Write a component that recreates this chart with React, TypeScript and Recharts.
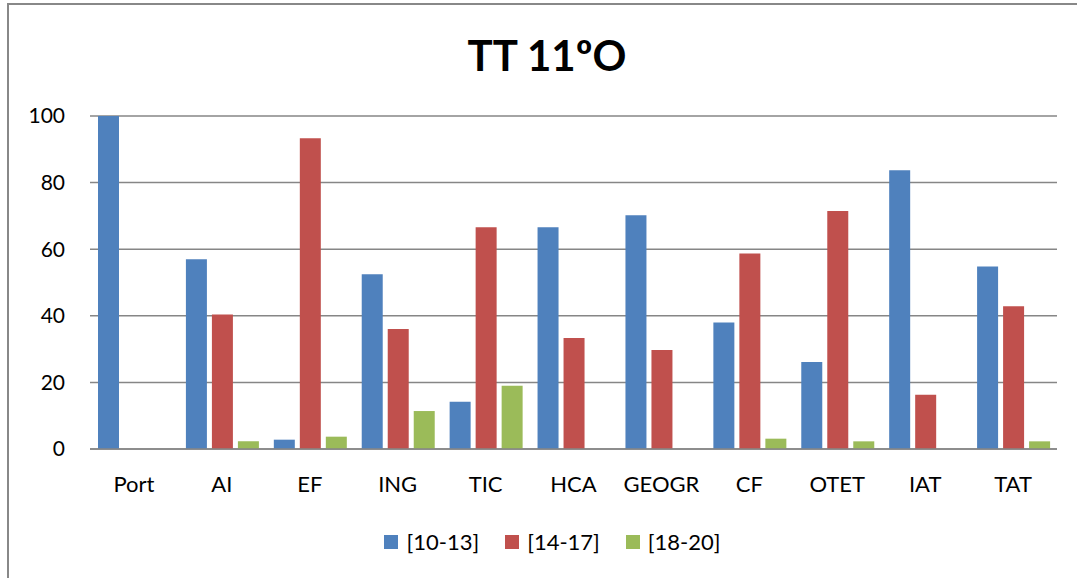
import React from 'react'
import { BarChart, Bar, XAxis, YAxis, CartesianGrid, Legend } from 'recharts'

const subjects = ['Port', 'AI', 'EF', 'ING', 'TIC', 'HCA', 'GEOGR', 'CF', 'OTET', 'IAT', 'TAT']
const low = [100, 57, 2.8, 52.5, 14.2, 66.6, 70.2, 38, 26.1, 83.7, 54.8]
const mid = [0, 40.4, 93.3, 36, 66.6, 33.3, 29.7, 58.7, 71.5, 16.3, 42.9]
const high = [0, 2.3, 3.7, 11.4, 19, 0, 0, 3.1, 2.3, 0, 2.3]
const yTicks = [0, 20, 40, 60, 80, 100]

const series = [
  { key: 'low', name: '[10-13]', color: '#4F81BD' },
  { key: 'mid', name: '[14-17]', color: '#C0504D' },
  { key: 'high', name: '[18-20]', color: '#9BBB59' },
]

const data = subjects.map((s, i) => ({ subject: s, low: low[i], mid: mid[i], high: high[i] }))

const FONT = 'Lato, "Open Sans", sans-serif'
const yTickStyle = { fontSize: 21, fill: '#000', fontFamily: FONT }
const xTickStyle = { fontSize: 22, fill: '#000', fontFamily: FONT }

function LegendBox() {
  return (
    <div style={{ display: 'flex', justifyContent: 'center', gap: 26, fontFamily: FONT, fontSize: 22, color: '#000', paddingLeft: 28 }}>
      {series.map(s => (
        <div key={s.key} style={{ display: 'flex', alignItems: 'center', gap: 8 }}>
          <span style={{ width: 14, height: 14, background: s.color, display: 'inline-block' }} />
          <span>{s.name}</span>
        </div>
      ))}
    </div>
  )
}

export default function App() {
  return (
    <div style={{ position: 'relative', width: 1077, height: 578, overflow: 'hidden', background: '#fff' }}>
      <style>{'body{margin:0;overflow:hidden}'}</style>
      <div style={{ position: 'absolute', left: 7, top: 3, width: 1200, height: 700, borderTop: '2px solid #888', borderLeft: '2px solid #888' }} />
      <div style={{ position: 'absolute', left: 7, width: 1080, top: 30, textAlign: 'center', fontFamily: FONT, fontWeight: 700, fontSize: 42, color: '#000' }}>
        TT 11ºO
      </div>
      <div style={{ position: 'absolute', left: 0, top: 0 }}>
        <BarChart
          width={1077}
          height={578}
          data={data}
          margin={{ top: 116, right: 20, left: 20, bottom: 69 }}
          barCategoryGap={8}
          barGap={5}
        >
          <CartesianGrid vertical={false} stroke="#868686" strokeWidth={1.5} />
          <XAxis
            dataKey="subject"
            tick={xTickStyle}
            tickLine={false}
            axisLine={{ stroke: '#868686', strokeWidth: 1.5 }}
            tickMargin={21}
            interval={0}
          />
          <YAxis
            domain={[0, 100]}
            ticks={yTicks}
            tick={yTickStyle}
            tickLine={false}
            axisLine={false}
            width={70}
            tickMargin={19}
          />
          <Legend
            verticalAlign="bottom"
            content={() => <LegendBox />}
            wrapperStyle={{ bottom: 20, height: 30 }}
          />
          {series.map(s => (
            <Bar key={s.key} dataKey={s.key} name={s.name} fill={s.color} isAnimationActive={false} />
          ))}
        </BarChart>
      </div>
    </div>
  )
}
